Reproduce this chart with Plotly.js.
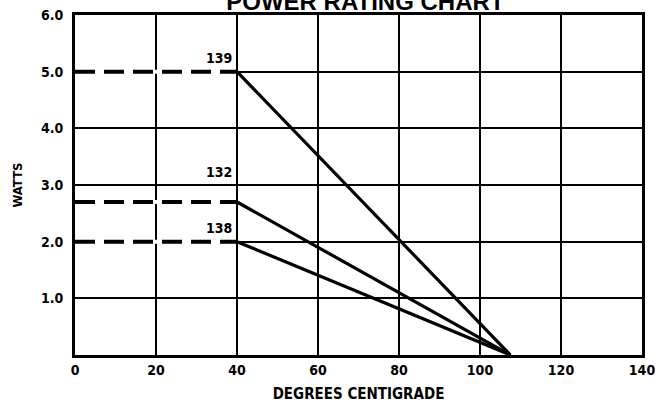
<!DOCTYPE html>
<html><head><meta charset="utf-8">
<script src="https://cdn.plot.ly/plotly-3.0.1.min.js"></script>
<style>html,body{margin:0;padding:0;background:#fff}#chart{width:656px;height:405px}</style>
</head><body><div id="chart"></div>
<script>
// Curves: name, rated watts, knee temperature, zero-power temperature
const seriesNames = ["139", "132", "138"];
const ratedWatts = [5.0, 2.7, 2.0];
const kneeTemp = [40, 40, 40];
const zeroTemp = [107.5, 107.5, 107.5];
const labelY = [5.24, 3.23, 2.24];
const xTicks = [0, 20, 40, 60, 80, 100, 120, 140];
const yTicks = [1, 2, 3, 4, 5, 6];
const yTickText = ["1.0", "2.0", "3.0", "4.0", "5.0", "6.0"];

const traces = [];
const annotations = [];
const lblFont = 'DejaVu Sans Condensed, Liberation Sans Narrow, sans-serif';
seriesNames.forEach((n, i) => {
  // white backing hides the gridline beneath the dashed segment
  traces.push({x: [0.6, kneeTemp[i] - 0.6], y: [ratedWatts[i], ratedWatts[i]], mode: 'lines',
    line: {color: '#fff', width: 4}, hoverinfo: 'skip', showlegend: false});
  traces.push({x: [0, kneeTemp[i]], y: [ratedWatts[i], ratedWatts[i]], mode: 'lines',
    line: {color: '#000', width: 4, dash: '20px,9px'}, hoverinfo: 'skip', showlegend: false});
  traces.push({x: [kneeTemp[i], zeroTemp[i]], y: [ratedWatts[i], 0], mode: 'lines',
    line: {color: '#000', width: 3.2}, hoverinfo: 'skip', showlegend: false});
  annotations.push({x: kneeTemp[i], y: labelY[i], xref: 'x', yref: 'y', text: n, showarrow: false,
    xanchor: 'right', yanchor: 'middle', xshift: -3,
    font: {family: lblFont, size: 14, color: '#000', weight: 'bold'}});
});

const tickFont = {family: lblFont, size: 14, color: '#000', weight: 'bold'};
const layout = {
  width: 656, height: 405,
  margin: {l: 75, r: 14, t: 15, b: 50},
  paper_bgcolor: '#fff', plot_bgcolor: '#fff',
  title: {text: 'POWER RATING CHART', x: 0.557, xanchor: 'center', yref: 'container', y: 0.995, yanchor: 'middle',
    font: {family: 'Liberation Sans, Arial, sans-serif', size: 24, color: '#000', weight: 'bold'}},
  xaxis: {range: [0, 140], tickvals: xTicks, ticktext: xTicks.map(String), showgrid: true, gridcolor: '#000', gridwidth: 2,
    showline: true, linecolor: '#000', linewidth: 3, mirror: true, zeroline: false, ticks: '', tickfont: tickFont,
    title: {text: 'DEGREES CENTIGRADE', font: {family: lblFont, size: 15, color: '#000', weight: 'bold'}, standoff: 12}},
  yaxis: {range: [0, 6], tickvals: yTicks, ticktext: yTickText, showgrid: true, gridcolor: '#000', gridwidth: 2,
    showline: true, linecolor: '#000', linewidth: 3, mirror: true, zeroline: false, ticks: '', tickfont: tickFont, ticklabelstandoff: 6,
    title: {text: 'WATTS', font: {family: lblFont, size: 13, color: '#000', weight: 'bold'}, standoff: 16}},
  annotations: annotations
};
Plotly.newPlot('chart', traces, layout, {staticPlot: true, displayModeBar: false});
</script></body></html>
